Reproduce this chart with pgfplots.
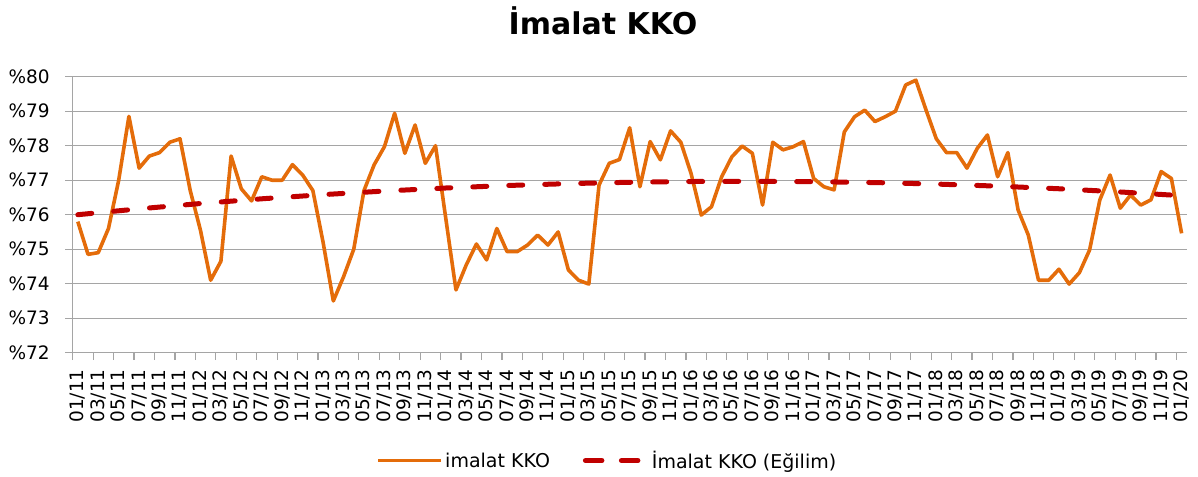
\documentclass[border=0pt]{standalone}
\usepackage{fontspec}
\setmainfont{DejaVu Sans}
\usepackage{pgfplots}
\pgfplotsset{compat=1.18}
\definecolor{kko}{RGB}{228,108,10}
\definecolor{trendc}{RGB}{192,0,0}
\definecolor{gridc}{RGB}{165,165,165}
\begin{document}
\begin{tikzpicture}
\path[use as bounding box] (0,0) rectangle (1198pt,476pt);
\begin{axis}[
  at={(72.7pt,123.3pt)}, anchor=south west,
  scale only axis, width=1114pt, height=276pt,
  xmin=-0.5, xmax=108.5, ymin=72, ymax=80,
  axis x line*=bottom, axis y line*=left,
  axis line style={draw=gridc, line width=1.2pt},
  ytick={72,73,74,75,76,77,78,79,80},
  yticklabels={\%72,\%73,\%74,\%75,\%76,\%77,\%78,\%79,\%80},
  ymajorgrids, grid style={draw=gridc, line width=1.2pt},
  tick align=outside, major tick length=7.5pt,
  tick style={draw=gridc, line width=1.2pt},
  xtick={-0.5,1.5,...,107.5}, xticklabels={},
  extra x ticks={0,2,...,108},
  extra x tick labels={01/11,03/11,05/11,07/11,09/11,11/11,01/12,03/12,05/12,07/12,09/12,11/12,01/13,03/13,05/13,07/13,09/13,11/13,01/14,03/14,05/14,07/14,09/14,11/14,01/15,03/15,05/15,07/15,09/15,11/15,01/16,03/16,05/16,07/16,09/16,11/16,01/17,03/17,05/17,07/17,09/17,11/17,01/18,03/18,05/18,07/18,09/18,11/18,01/19,03/19,05/19,07/19,09/19,11/19,01/20},
  extra x tick style={major tick length=0pt, grid=none, xticklabel shift=13pt},
  x tick label style={rotate=90, anchor=east, font=\fontsize{18.5}{22}\selectfont},
  y tick label style={font=\fontsize{18.5}{22}\selectfont},
  yticklabel shift=12pt,
  legend style={at={(0.48,-0.391)}, anchor=center, draw=none, fill=none,
    legend columns=2, font=\fontsize{19}{22}\selectfont,
    /tikz/every even column/.append style={column sep=31pt}},
]
\addplot[kko, line width=3.6pt, line join=round,
  legend image code/.code={\draw[kko, line width=3.6pt] (0pt,0pt) -- (61pt,0pt); \path (0pt,0pt) -- (63pt,0pt);}] coordinates {
(0,75.8)(1,74.85)(2,74.9)(3,75.6)(4,77.0)(5,78.85)(6,77.35)(7,77.7)(8,77.8)(9,78.1)
(10,78.2)(11,76.7)(12,75.55)(13,74.1)(14,74.65)(15,77.7)(16,76.75)(17,76.4)(18,77.1)(19,77.0)
(20,77.0)(21,77.45)(22,77.15)(23,76.7)(24,75.2)(25,73.5)(26,74.2)(27,75.0)(28,76.7)(29,77.45)
(30,77.97)(31,78.94)(32,77.78)(33,78.6)(34,77.49)(35,78.0)(36,75.9)(37,73.82)(38,74.54)(39,75.15)
(40,74.69)(41,75.6)(42,74.93)(43,74.93)(44,75.12)(45,75.41)(46,75.12)(47,75.5)(48,74.4)(49,74.1)
(50,73.99)(51,76.86)(52,77.49)(53,77.6)(54,78.52)(55,76.81)(56,78.12)(57,77.59)(58,78.43)(59,78.1)
(60,77.2)(61,75.99)(62,76.23)(63,77.1)(64,77.68)(65,77.99)(66,77.78)(67,76.28)(68,78.1)(69,77.88)
(70,77.97)(71,78.12)(72,77.05)(73,76.81)(74,76.72)(75,78.4)(76,78.84)(77,79.03)(78,78.7)(79,78.84)
(80,79.0)(81,79.76)(82,79.9)(83,79.03)(84,78.2)(85,77.8)(86,77.8)(87,77.35)(88,77.92)(89,78.31)
(90,77.1)(91,77.8)(92,76.14)(93,75.41)(94,74.1)(95,74.1)(96,74.42)(97,73.99)(98,74.32)(99,74.98)
(100,76.43)(101,77.15)(102,76.19)(103,76.57)(104,76.28)(105,76.43)(106,77.25)(107,77.05)(108,75.46)
};
\addlegendentry{imalat KKO}
\addplot[trendc, line width=5pt, line cap=round, dash pattern=on 14pt off 22pt,
  legend image code/.code={\draw[trendc, line width=5pt, line cap=round, dash pattern=on 14pt off 22pt] (2.5pt,0pt) -- (53.5pt,0pt); \path (0pt,0pt) -- (62pt,0pt);}] coordinates {
(0,76.000)(6,76.170)(12,76.324)(18,76.461)(24,76.582)(30,76.686)(36,76.774)(42,76.846)
(48,76.901)(54,76.940)(60,76.962)(66,76.968)(72,76.958)(78,76.931)(84,76.888)(90,76.828)
(96,76.752)(102,76.659)(108,76.551)
};
\addlegendentry{İmalat KKO (Eğilim)}
\end{axis}
\node[anchor=base, font=\fontsize{30}{36}\selectfont\bfseries] at (603pt,441.7pt) {İmalat KKO};
\end{tikzpicture}
\end{document}
